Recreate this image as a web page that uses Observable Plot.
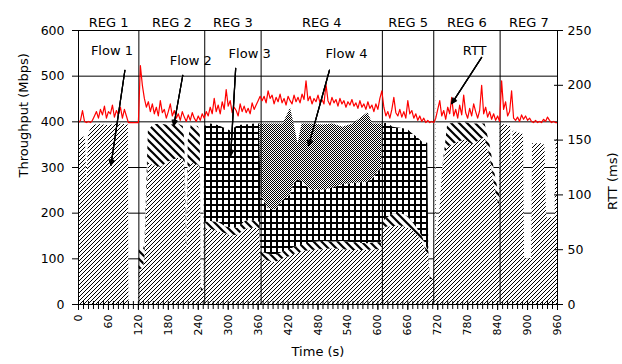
<!DOCTYPE html>
<html><head><meta charset="utf-8">
<script src="https://cdn.jsdelivr.net/npm/d3@7"></script>
<script src="https://cdn.jsdelivr.net/npm/@observablehq/plot@0.6"></script>
<style>body{margin:0;background:#fff} svg{display:block}</style>
</head><body><div id="chart"></div>
<script>
const flowNames = ["Flow 1", "Flow 2", "Flow 3", "Flow 4"];
const time = [0,2,8,14,17,20,28,40,60,80,100,101,120,
  122,130,133,136,140,150,165,180,200,210,213,217,220,226,240,244,246,251,
  253,265,280,295,305,320,335,355,363,
  366,380,395,410,425,432,440,448,465,490,510,530,550,580,590,600,607,
  609,620,630,645,660,668,680,690,700,702,705,711,
  712,715,716,717,724,730,735,740,760,775,790,805,815,825,835,842,844,
  845,860,866,868,871,885,892,894,908,910,932,935,938,955,957,960];
const flow1 = [0,360,365,368,250,372,392,394,392,395,393,0,0,
  75,80,100,200,310,305,300,312,320,318,300,95,290,310,305,300,30,30,
  165,165,160,155,150,152,165,168,165,
  100,95,92,100,105,110,112,115,118,120,122,120,118,118,120,120,120,
  165,170,170,172,168,165,150,135,110,110,55,55,
  60,130,500,130,200,300,330,345,355,360,350,360,365,320,255,220,220,
  395,392,390,280,380,375,372,100,100,352,352,345,190,190,360,360];
const flow2 = [0,0,0,0,0,0,0,0,0,0,0,0,0,
  45,40,30,30,70,88,95,80,75,72,60,20,70,82,85,80,10,10,
  15,17,20,15,18,15,18,15,15,
  15,15,15,15,15,15,15,15,17,18,15,18,17,15,15,15,15,
  15,20,28,28,25,18,15,12,10,10,5,5,
  0,0,0,0,0,0,15,50,42,38,45,35,30,28,30,25,25,
  0,0,0,0,0,0,0,0,0,0,0,0,0,0,0,0];
const flow3 = [0,0,0,0,0,0,0,0,0,0,0,0,0,
  0,0,0,0,0,0,0,0,0,0,0,0,0,0,0,0,0,0,
  210,213,212,215,212,225,210,212,215,
  125,100,100,113,120,140,145,140,115,112,118,125,130,135,140,155,160,
  215,207,190,186,190,192,200,208,233,0,0,0,
  0,0,0,0,0,0,0,0,0,0,0,0,0,0,0,0,0,
  0,0,0,0,0,0,0,0,0,0,0,0,0,0,0,0];
const flow4 = [0,0,0,0,0,0,0,0,0,0,0,0,0,
  0,0,0,0,0,0,0,0,0,0,0,0,0,0,0,0,0,0,
  0,0,0,0,0,0,0,0,0,
  155,185,188,167,190,130,80,125,145,143,140,125,130,152,120,105,100,
  0,0,0,0,0,0,0,0,0,0,0,0,
  0,0,0,0,0,0,0,0,0,0,0,0,0,0,0,0,0,
  0,0,0,0,0,0,0,0,0,0,0,0,0,0,0,0];

const rttTime = d3.range(0, 961, 4);
const rtt = [
  166,168,177,167,166,167,166,168,172,176, 170,178,173,181,170,176,174,182,171,177,
  173,180,170,178,172,166,166,166,166,166, 166,
  218,200,188,180,185,176,183,174,180,172, 186,175,178,170,176,183,172,177,170,174,
  168,176,171,167,173,168,175,170,167,172, 168,174,170,
  176,172,180,174,188,176,182,174,185,178, 196,181,186,175,180,177,172,183,176,181,
  175,179,174,184,178,182,186,190,
  186,190,184,195,188,191,183,189,185,192, 184,188,182,190,186,183,191,185,189,184,
  192,187,204,186,190,183,188,185,191,184, 187,183,201,186,182,189,184,187,181,188,
  183,186,180,185,182,187,181,184,179,186, 180,183,178,185,179,182,176,183,178,188, 195,
  180,172,176,170,178,189,175,172,178,171, 176,170,186,174,177,170,174,168,172,167,
  170,166,168,166,167,166,
  170,178,186,172,177,169,180,174,189,172, 178,170,182,173,191,175,170,179,172,183,
  176,170,177,200,174,180,171,176,169,174, 168,172,167,
  204,178,185,172,176,195,170,168,171,167, 173,169,172,168,170,167,166,168,166,167,
  166,169,167,171,168,166,167,166,166];

const regionNames = ["REG 1","REG 2","REG 3","REG 4","REG 5","REG 6","REG 7"];
const regionBounds = [0,121,253,366,609,712,845,960];
const xTicks = d3.range(0, 961, 60);
const xMinorTicks = d3.range(0, 961, 10);
const yTicks = [0,100,200,300,400,500,600];
const gridTicks = [100,200,300,400,500];
const rttTicks = [0,50,100,150,200,250];
const rttMax = 250, yMax = 600;

const annLabel = ["Flow 1","Flow 2","Flow 3","Flow 4","RTT"];
const annTextX = [67,225,343,537,794];
const annTextY = [556,534,550,550,556];
const annFromX = [93,209,315,503,808];
const annFromY = [513,502,517,513,541];
const annToX = [65,191,305,461,748];
const annToY = [305,392,326,348,440];

const patterns = {"Flow 1":"url(#p-f1)","Flow 2":"url(#p-f2)","Flow 3":"url(#p-f3)","Flow 4":"url(#p-f4)"};
const flows = [flow1, flow2, flow3, flow4];
const long = [];
time.forEach((t, i) => flowNames.forEach((f, k) => long.push({t, flow: f, v: flows[k][i]})));
const rttData = rttTime.map((t, i) => ({t, r: rtt[i]}));
const toLeft = r => r * yMax / rttMax;
const ann = annLabel.map((l, i) => ({l, tx: annTextX[i], ty: annTextY[i], x1: annFromX[i], y1: annFromY[i], x2: annToX[i], y2: annToY[i]}));

const svg = Plot.plot({
  width: 622, height: 364,
  marginLeft: 78, marginRight: 65, marginTop: 30, marginBottom: 60,
  style: {fontFamily: "'DejaVu Sans', sans-serif", fontSize: "12px", background: "white", color: "black"},
  x: {domain: [0, 960]},
  y: {domain: [0, 600]},
  color: {type: "identity"},
  marks: [
    Plot.gridY({ticks: gridTicks, stroke: "black", strokeOpacity: 1}),
    Plot.areaY(long, Plot.stackY({x: "t", y: "v", z: "flow", fill: d => patterns[d.flow], order: flowNames})),
    Plot.ruleX(regionBounds.slice(1, -1), {y1: 0, y2: 600, stroke: "black"}),
    Plot.line(rttData, {x: "t", y: d => toLeft(d.r), stroke: "#ff0000", strokeWidth: 1.2}),
    Plot.frame({stroke: "black"}),
    Plot.axisX({ticks: xMinorTicks, tickFormat: () => "", tickSize: 8, dy: -3, label: null}),
    Plot.axisX({ticks: xTicks, tickRotate: -90, tickSize: 6, tickPadding: 4, fontSize: 11, label: null}),
    Plot.axisY({ticks: yTicks, tickSize: 6, tickPadding: 8, fontSize: 12.5, label: null}),
    Plot.axisY({anchor: "right", ticks: rttTicks.map(toLeft), tickFormat: d => String(Math.round(d * rttMax / yMax)), tickSize: 9, tickPadding: 5, dx: -4, fontSize: 12.5, label: null}),
    Plot.text(["Throughput (Mbps)"], {text: d => d, frameAnchor: "left", rotate: -90, dx: -55, dy: 10, fontSize: 13}),
    Plot.text(["RTT (ms)"], {text: d => d, frameAnchor: "right", rotate: -90, dx: 55, dy: -15, fontSize: 13}),
    Plot.text(["Time (s)"], {text: d => d, frameAnchor: "bottom", dy: 51, fontSize: 13}),
    Plot.text(regionNames, {text: d => d, x: (d, i) => (regionBounds[i] + regionBounds[i + 1]) / 2, frameAnchor: "top", dy: -13, fontSize: 13}),
    Plot.text(ann, {x: "tx", y: "ty", text: "l", fontSize: 13}),
    ...[18, 36, 54].map(a => Plot.arrow(ann, {x1: "x1", y1: "y1", x2: "x2", y2: "y2", stroke: "black", strokeWidth: 1.2, headLength: 7, headAngle: a}))
  ]
});

const ns = "http://www.w3.org/2000/svg";
const defs = document.createElementNS(ns, "defs");
defs.innerHTML = `
<pattern id="p-f1" patternUnits="userSpaceOnUse" width="4" height="4">
  <rect width="4" height="4" fill="white"/>
  <path d="M-1,1 L1,-1 M0,4 L4,0 M3,5 L5,3" stroke="black" stroke-width="1.2" shape-rendering="crispEdges"/>
</pattern>
<pattern id="p-f2" patternUnits="userSpaceOnUse" width="8" height="8">
  <rect width="8" height="8" fill="white"/>
  <path d="M-1,7 L1,9 M0,0 L8,8 M7,-1 L9,1" stroke="black" stroke-width="2.2"/>
</pattern>
<pattern id="p-f3" patternUnits="userSpaceOnUse" width="6" height="6">
  <rect width="6" height="6" fill="white"/>
  <rect width="6" height="2" fill="black"/>
  <rect width="2" height="6" fill="black"/>
</pattern>
<pattern id="p-f4" patternUnits="userSpaceOnUse" width="2" height="2">
  <rect width="2" height="2" fill="white"/>
  <rect width="1" height="1" fill="black"/>
  <rect x="1" y="1" width="1" height="1" fill="black"/>
</pattern>`;
svg.insertBefore(defs, svg.firstChild);
document.getElementById("chart").appendChild(svg);
</script>
</body></html>
